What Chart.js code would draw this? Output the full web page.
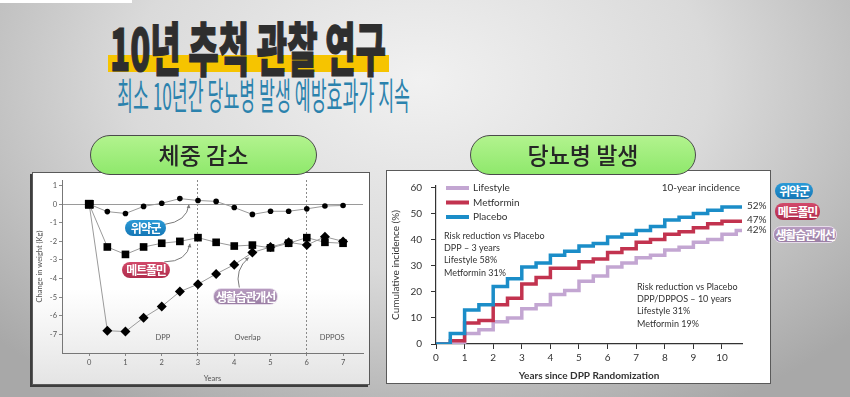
<!DOCTYPE html>
<html>
<head>
<meta charset="utf-8">
<script src="https://cdn.jsdelivr.net/npm/chart.js@4.4.1/dist/chart.umd.min.js"></script>
<style>
body {
    margin: 0;
    width: 850px;
    height: 397px;
    overflow: hidden;
    position: relative;
    background: radial-gradient(ellipse 580px 380px at 420px 80px, #f1f1f1 0%, #dadada 50%, #a8a8a8 100%);
    font-family: 'Noto Sans CJK KR', sans-serif;
}
.abs { position: absolute; }
.fit { white-space: nowrap; line-height: 1; transform-origin: 0 0; }
#strip { left: 0; top: 0; width: 132px; height: 3px; background: #fff; }
#hl { left: 108px; top: 55px; width: 281px; height: 17px; background: #f6c400; }
#title { left: 110px; top: 17px; font-size: 58px; font-weight: 900; color: #2e2e2e; -webkit-text-stroke: 1.2px #2e2e2e; }
#subtitle { left: 117px; top: 76px; font-size: 37px; font-weight: 400; color: #2b82ad; }
.panel { border: 1px solid #5a5a5a; box-sizing: border-box; }
#panelL { left: 32px; top: 172px; width: 338px; height: 213px; background: linear-gradient(#ffffff 55%, #e4e4e4); box-shadow: -2px 2px 0 #3e3e3e; }
#panelR { left: 386px; top: 170px; width: 385px; height: 214px; background: #fff; border-width: 1.5px; }
.green {
    box-sizing: border-box; height: 40px; border: 1.5px solid #4a4a4a; border-radius: 20px;
    background: linear-gradient(#b2f38e, #8fe86c); text-align: center; z-index: 3;
    font-size: 23px; font-weight: 500; color: #262626; line-height: 36px;
}
#pillL { left: 90px; top: 135px; width: 227px; }
#pillR { left: 470px; top: 135px; width: 226px; }
.tag {
    box-sizing: border-box; border-radius: 8px; color: #fff; text-align: center;
    font-size: 12px; font-weight: 700; letter-spacing: -1.2px; z-index: 4; white-space: nowrap;
}
.tb { background: linear-gradient(#2b9ad6, #1577b6); }
.tr { background: linear-gradient(#d24a6a, #b02c4c); }
.tp { background: linear-gradient(#b79bc0, #9a7ea4); border: 1px solid #e6dcea; }
canvas { position: absolute; z-index: 2; }
</style>
</head>
<body>
<div class="abs" id="strip"></div>
<div class="abs" id="hl"></div>
<div class="abs fit" id="title" data-w="276">10년 추척 관찰 연구</div>
<div class="abs fit" id="subtitle" data-w="293">최소 10년간 당뇨병 발생 예방효과가 지속</div>

<div class="abs panel" id="panelL"></div>
<div class="abs panel" id="panelR"></div>
<div class="abs green" id="pillL">체중 감소</div>
<div class="abs green" id="pillR">당뇨병 발생</div>

<canvas id="weightChart" width="336" height="210" style="left:33px;top:173px;width:336px;height:210px"></canvas>
<canvas id="incChart" width="381" height="211" style="left:388px;top:171px;width:381px;height:211px"></canvas>

<div class="abs tag tb" style="left:125px;top:220px;width:41px;height:16px;line-height:16px">위약군</div>
<div class="abs tag tr" style="left:122px;top:262px;width:48px;height:16px;line-height:16px">메트폴민</div>
<div class="abs tag tp" style="left:213px;top:288px;width:65px;height:17px;line-height:15px">생활습관개선</div>

<div class="abs tag tb" style="left:775px;top:183px;width:38px;height:16px;line-height:16px">위약군</div>
<div class="abs tag tr" style="left:775px;top:203px;width:45px;height:17px;line-height:17px">메트폴민</div>
<div class="abs tag tp" style="left:773px;top:226px;width:64px;height:17px;line-height:15px">생활습관개선</div>

<script>
// weight change chart (left)
const weightYears = [0, 0.5, 1, 1.5, 2, 2.5, 3, 3.5, 4, 4.5, 5, 5.5, 6, 6.5, 7];
const weightPlacebo = [0, -0.4, -0.5, -0.12, 0.05, 0.3, 0.2, 0.15, -0.18, -0.55, -0.38, -0.38, -0.25, -0.1, -0.07];
const weightMetformin = [0, -2.3, -2.7, -2.3, -2.1, -2.0, -1.8, -2.05, -2.25, -2.2, -2.35, -2.1, -1.8, -2.05, -2.1];
const weightLifestyle = [0, -6.8, -6.85, -6.1, -5.5, -4.7, -4.3, -3.75, -3.25, -2.6, -2.3, -2.05, -2.2, -1.75, -2.0];
const weightTicksX = [0, 1, 2, 3, 4, 5, 6, 7];
const weightTicksY = [1, 0, -1, -2, -3, -4, -5, -6, -7];
const phaseLabels = ['DPP', 'Overlap', 'DPPOS'];
const phaseX = [2.03, 4.37, 6.7];

// cumulative incidence chart (right)
const incYears = [0, 0.5, 1, 1.5, 2, 2.5, 3, 3.5, 4, 4.5, 5, 5.5, 6, 6.5, 7, 7.5, 8, 8.5, 9, 9.5, 10, 10.5, 10.7];
const incPlacebo = [0, 4, 13, 15, 22, 25, 29.5, 31, 34, 35.5, 37.5, 38.5, 41, 42, 43.5, 45, 47.5, 48.5, 50, 51.2, 52.5, 52.5, 52.5];
const incMetformin = [0, 1.2, 8, 9, 15, 17.5, 23, 25.5, 29, 29, 31.5, 32.5, 35, 36.5, 39, 40, 42, 43, 44.5, 46, 47, 47, 47];
const incLifestyle = [0, 0, 4, 5.5, 8.5, 10, 13.5, 15, 19, 20.5, 24, 26, 29.5, 31, 33, 34, 36, 37, 39, 40, 42, 43.5, 43.5];
const incTicksX = [0, 1, 2, 3, 4, 5, 6, 7, 8, 9, 10];
const incTicksY = [0, 10, 20, 30, 40, 50, 60];
const endLabels = ['52%', '47%', '42%'];

Chart.defaults.font.family = 'Lato, "Liberation Sans", sans-serif';
Chart.defaults.color = '#333';

const toPoints = (xs, ys) => xs.map((x, i) => ({ x: x, y: ys[i] }));

// curved call-out arrows, in data units: from, control, to
const weightArrows = [
    [2.07, -1.09, 2.70, -0.94, 2.75, -0.02],
    [2.07, -3.10, 2.70, -3.10, 2.78, -2.13],
    [4.14, -4.48, 4.00, -3.52, 4.40, -2.87]
];

const weightExtras = {
    id: 'weightExtras',
    afterDatasetsDraw(chart) {
        const { ctx, scales: { x, y } } = chart;
        ctx.save();
        ctx.strokeStyle = '#7a7a7a';
        ctx.fillStyle = '#7a7a7a';
        ctx.lineWidth = 1;
        weightArrows.forEach(a => {
            const x0 = x.getPixelForValue(a[0]), y0 = y.getPixelForValue(a[1]);
            const cx = x.getPixelForValue(a[2]), cy = y.getPixelForValue(a[3]);
            const x1 = x.getPixelForValue(a[4]), y1 = y.getPixelForValue(a[5]);
            ctx.beginPath();
            ctx.moveTo(x0, y0);
            ctx.quadraticCurveTo(cx, cy, x1, y1);
            ctx.stroke();
            const ang = Math.atan2(y1 - cy, x1 - cx);
            ctx.beginPath();
            ctx.moveTo(x1, y1);
            ctx.lineTo(x1 - 4 * Math.cos(ang - 0.5), y1 - 4 * Math.sin(ang - 0.5));
            ctx.lineTo(x1 - 4 * Math.cos(ang + 0.5), y1 - 4 * Math.sin(ang + 0.5));
            ctx.closePath();
            ctx.fill();
        });
        ctx.fillStyle = '#555';
        ctx.font = '7.5px Lato, sans-serif';
        ctx.textAlign = 'center';
        ctx.textBaseline = 'middle';
        phaseLabels.forEach((t, i) => {
            ctx.fillText(t, x.getPixelForValue(phaseX[i]), y.getPixelForValue(-7.15));
        });
        ctx.restore();
    }
};

function drawWeight() {
    const marker = style => c => c.dataIndex === 0 ? 'rect' : style;
    const ds = (data, style, r) => ({
        data: toPoints(weightYears, data),
        borderColor: '#9a9a9a',
        borderWidth: 1,
        pointStyle: marker(style),
        pointRadius: c => c.dataIndex === 0 ? 6 : r,
        pointBackgroundColor: '#000',
        pointBorderColor: '#000',
        pointBorderWidth: 0
    });
    new Chart(document.getElementById('weightChart'), {
        type: 'line',
        data: {
            datasets: [
                ds(weightPlacebo, 'circle', 2.8),
                ds(weightMetformin, 'rect', 5.4),
                ds(weightLifestyle, 'rectRot', 5)
            ]
        },
        options: {
            responsive: false,
            animation: false,
            devicePixelRatio: 1,
            layout: { padding: { top: 7, left: 0, right: 0, bottom: 0 } },
            plugins: { legend: { display: false }, tooltip: { enabled: false } },
            scales: {
                x: {
                    type: 'linear',
                    min: -0.75,
                    max: 7.55,
                    afterBuildTicks: s => { s.ticks = weightTicksX.map(v => ({ value: v })); },
                    afterFit: s => { s.height = 30; },
                    ticks: { font: { size: 7.5 }, color: '#555', padding: 2 },
                    grid: {
                        color: c => (c.tick && (c.tick.value === 3 || c.tick.value === 6)) ? '#8a8a8a' : 'transparent',
                        tickColor: '#888',
                        tickLength: 3
                    },
                    border: { display: true, color: '#777', dash: [2, 2] },
                    title: { display: true, text: 'Years', font: { size: 7.5 }, color: '#555', padding: 0 }
                },
                y: {
                    min: -8,
                    max: 1.3,
                    afterBuildTicks: s => { s.ticks = weightTicksY.map(v => ({ value: v })); },
                    afterFit: s => { s.width = 29; },
                    ticks: { font: { size: 7.5 }, color: '#555', padding: 2 },
                    grid: {
                        color: c => (c.tick && c.tick.value === 0) ? '#9a9a9a' : 'transparent',
                        tickColor: '#888',
                        tickLength: 3
                    },
                    border: { display: true, color: '#777' },
                    title: { display: true, text: 'Change in weight (Kg)', font: { size: 7.5 }, color: '#555', padding: 2 }
                }
            }
        },
        plugins: [weightExtras]
    });
}

const incColors = { placebo: '#1b8dc8', metformin: '#c2334f', lifestyle: '#c3a6d2' };

const incExtras = {
    id: 'incExtras',
    afterDatasetsDraw(chart) {
        const { ctx, chartArea: a } = chart;
        ctx.save();
        ctx.textBaseline = 'middle';
        // legend, drawn inside the plot
        const rows = [['Lifestyle', incColors.lifestyle], ['Metformin', incColors.metformin], ['Placebo', incColors.placebo]];
        ctx.font = '10px Lato, sans-serif';
        rows.forEach((r, i) => {
            const yy = a.top + 2 + i * 14.5;
            ctx.fillStyle = r[1];
            ctx.fillRect(a.left + 10, yy - 2, 23, 4);
            ctx.fillStyle = '#333';
            ctx.textAlign = 'left';
            ctx.fillText(r[0], a.left + 37, yy);
        });
        ctx.textAlign = 'right';
        ctx.fillText('10-year incidence', a.right - 2, a.top + 2);

        ctx.textAlign = 'left';
        ctx.font = '9px Lato, sans-serif';
        const block1 = ['Risk reduction vs Placebo', 'DPP \u2013 3 years', 'Lifestyle 58%', 'Metformin 31%'];
        const block2 = ['Risk reduction vs Placebo', 'DPP/DPPOS \u2013 10 years', 'Lifestyle 31%', 'Metformin 19%'];
        block1.forEach((t, i) => ctx.fillText(t, a.left + 8, a.top + 50 + i * 12.2));
        block2.forEach((t, i) => ctx.fillText(t, a.left + 201, a.top + 101 + i * 12.2));

        // end-of-line percentages
        ctx.font = '10px Lato, sans-serif';
        chart.data.datasets.forEach((d, i) => {
            const meta = chart.getDatasetMeta(i);
            const p = meta.data[meta.data.length - 1];
            ctx.fillText(endLabels[i], p.x + 5, p.y - 1);
        });
        ctx.restore();
    }
};

function drawIncidence() {
    const ds = (label, data, color) => ({
        label: label,
        data: toPoints(incYears, data),
        borderColor: color,
        borderWidth: 3.5,
        stepped: 'before',
        pointRadius: 0
    });
    new Chart(document.getElementById('incChart'), {
        type: 'line',
        data: {
            datasets: [
                ds('Placebo', incPlacebo, incColors.placebo),
                ds('Metformin', incMetformin, incColors.metformin),
                ds('Lifestyle', incLifestyle, incColors.lifestyle)
            ]
        },
        options: {
            responsive: false,
            animation: false,
            devicePixelRatio: 1,
            layout: { padding: { top: 10, right: 27, left: 0, bottom: 0 } },
            plugins: { legend: { display: false }, tooltip: { enabled: false } },
            scales: {
                x: {
                    type: 'linear',
                    min: 0,
                    max: 10.7,
                    afterBuildTicks: s => { s.ticks = incTicksX.map(v => ({ value: v })); },
                    afterFit: s => { s.height = 38; },
                    ticks: { font: { size: 10 }, color: '#333', padding: 3 },
                    grid: { drawOnChartArea: false, tickColor: '#333', tickLength: 5 },
                    border: { display: true, color: '#333', width: 1.2 },
                    title: { display: true, text: 'Years since DPP Randomization', font: { size: 10, weight: 'bold' }, color: '#333', padding: 0 }
                },
                y: {
                    min: 0,
                    max: 60.5,
                    afterBuildTicks: s => { s.ticks = incTicksY.map(v => ({ value: v })); },
                    afterFit: s => { s.width = 48; },
                    ticks: { font: { size: 10 }, color: '#333', padding: 9 },
                    grid: { drawOnChartArea: false, tickColor: '#333', tickLength: 5 },
                    border: { display: true, color: '#333', width: 1.2 },
                    title: { display: true, text: 'Cumulative incidence (%)', font: { size: 10 }, color: '#333', padding: 2 }
                }
            }
        },
        plugins: [incExtras]
    });
}

function fitText() {
    document.querySelectorAll('.fit').forEach(el => {
        const w = el.getBoundingClientRect().width;
        el.style.transform = 'scaleX(' + (parseFloat(el.dataset.w) / w) + ')';
    });
}

document.fonts.ready.then(() => {
    fitText();
    drawWeight();
    drawIncidence();
});
</script>
</body>
</html>
